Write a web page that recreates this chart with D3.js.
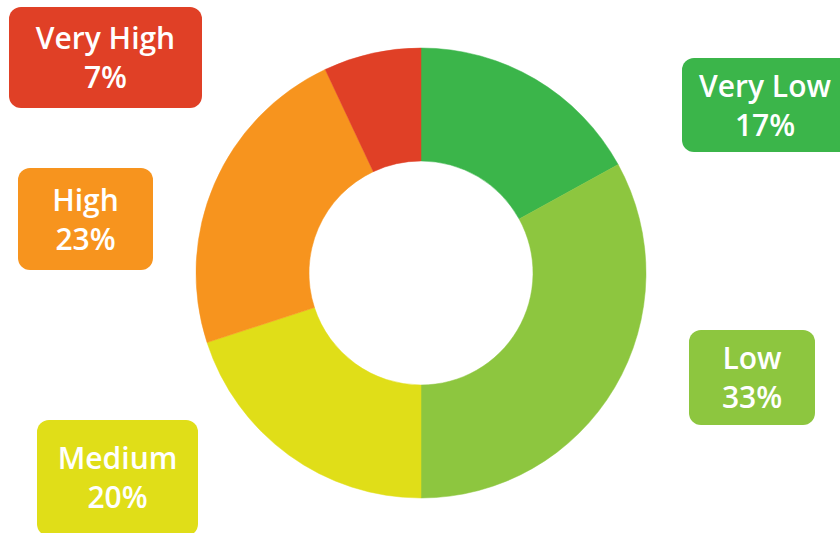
<!DOCTYPE html>
<html><head><meta charset="utf-8">
<script src="https://cdn.jsdelivr.net/npm/d3@7"></script>
<style>html,body{margin:0;padding:0;background:#fff;overflow:hidden}</style>
</head><body>
<svg id="chart" width="840" height="533"></svg>
<script>
const categories = ["Very Low", "Low", "Medium", "High", "Very High"];
const values = [17, 33, 20, 23, 7];
const colors = ["#3bb54a", "#8dc63f", "#e0de18", "#f7941e", "#e04026"];
// label box layout (x, y, w, h) per category
const boxes = [
  [682, 58, 170, 94],
  [689, 330, 126, 95],
  [37, 420, 161, 116],
  [18, 168, 135, 102],
  [9, 7, 193, 101]
];

const svg = d3.select("#chart");
const cx = 421, cy = 273, rOuter = 225, rInner = 112;
const data = categories.map((c, i) => ({cat: c, value: values[i], color: colors[i], box: boxes[i]}));

const pie = d3.pie().value(d => d.value).sort(null);
const arc = d3.arc().innerRadius(rInner).outerRadius(rOuter);

svg.append("g").attr("transform", `translate(${cx},${cy})`)
  .selectAll("path").data(pie(data)).join("path")
  .attr("d", arc).attr("fill", d => d.data.color)
  .attr("stroke", d => d.data.color).attr("stroke-width", 0.5);

const lab = svg.append("g").selectAll("g").data(data).join("g");
lab.append("rect")
  .attr("x", d => d.box[0]).attr("y", d => d.box[1])
  .attr("width", d => d.box[2]).attr("height", d => d.box[3])
  .attr("rx", 12).attr("ry", 12)
  .attr("fill", d => d.color);

const textCx = d => d.cat === "Very Low" ? 765 : d.box[0] + d.box[2] / 2;
const textCy = d => d.cat === "Medium" ? 477 : d.box[1] + d.box[3] / 2;

const font = "'Open Sans', Lato, sans-serif";
lab.append("text")
  .attr("x", textCx).attr("y", d => textCy(d) - 8.5)
  .attr("text-anchor", "middle")
  .attr("font-family", font)
  .attr("font-weight", 600).attr("font-size", 30)
  .attr("fill", "#fff")
  .text(d => d.cat);
lab.append("text")
  .attr("x", textCx).attr("y", d => textCy(d) + 30.5)
  .attr("text-anchor", "middle")
  .attr("font-family", font)
  .attr("font-weight", 600).attr("font-size", 30)
  .attr("fill", "#fff")
  .text(d => d.value + "%");
</script>
</body></html>
